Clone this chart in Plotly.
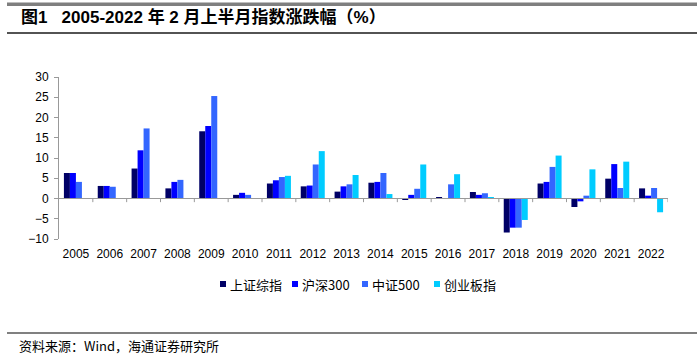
import plotly.graph_objects as go

years = [str(y) for y in range(2005, 2023)]
sh_composite = [6.3, 3.1, 7.4, 2.5, 16.6, 0.9, 3.7, 3.0, 1.7, 3.9, -0.3, 0.25, 1.6, -8.4, 3.7, -2.1, 4.9, 2.5]
hs300 = [6.3, 3.1, 11.9, 4.1, 17.9, 1.4, 4.5, 3.2, 3.0, 4.1, 0.9, 0.1, 0.9, -7.2, 4.1, -0.7, 8.5, 0.7]
csi500 = [4.1, 2.9, 17.3, 4.6, 25.3, 0.9, 5.3, 8.4, 3.5, 6.3, 2.4, 3.5, 1.3, -7.2, 7.8, 0.7, 2.6, 2.6]
chinext = [None, None, None, None, None, 0.05, 5.6, 11.7, 5.8, 1.1, 8.4, 6.0, 0.3, -5.3, 10.6, 7.2, 9.1, -3.4]

names = ["上证综指", "沪深300", "中证500", "创业板指"]
colors = ["#000066", "#0000FF", "#3366FF", "#00CCFF"]
series = [sh_composite, hs300, csi500, chinext]

y_ticks = list(range(-10, 31, 5))

fig = go.Figure()
for name, color, vals in zip(names, colors, series):
    fig.add_trace(go.Bar(x=years, y=vals, name=name, showlegend=False,
                         marker=dict(color=color, line=dict(width=0))))

# plot area geometry (pixels)
W, H = 700, 358
ml, mr, mt, mb = 59, 32, 77, 119
ph = H - mt - mb
pw = W - ml - mr

def py(p):
    return (H - mb - p) / ph

def px(p):
    return (p - ml) / pw

shapes = []
annotations = []
# zero axis line with boundary ticks
n = len(years)
shapes.append(dict(type="line", xref="x", yref="y", x0=-0.5, x1=n - 0.5, y0=0, y1=0,
                   line=dict(color="#999999", width=1)))
for i in range(n):
    shapes.append(dict(type="line", xref="x", yref="y", x0=i + 0.5, x1=i + 0.5, y0=0, y1=-0.9,
                       line=dict(color="#999999", width=1)))
# decorative rules
shapes.append(dict(type="rect", xref="paper", yref="paper", x0=px(7), x1=px(697), y0=py(5.5), y1=py(2.5),
                   fillcolor="#7f7f7f", line=dict(width=0), layer="above"))
shapes.append(dict(type="line", xref="paper", yref="paper", x0=px(7), x1=px(697), y0=py(33), y1=py(33),
                   line=dict(color="#1a1a1a", width=1.5), layer="above"))
shapes.append(dict(type="line", xref="paper", yref="paper", x0=px(7), x1=px(697), y0=py(333), y1=py(333),
                   line=dict(color="#808080", width=2), layer="above"))

# top rule drawn also as a filled annotation box
annotations.append(dict(text=" ", xref="paper", yref="paper", x=px(7), y=py(4),
                        xanchor="left", yanchor="middle", showarrow=False,
                        width=690, height=3, bgcolor="#7f7f7f", borderpad=0, borderwidth=0,
                        font=dict(size=1)))

# custom legend
legend_x = [220, 292, 362, 434]
leg_y = 284
for name, color, lx in zip(names, colors, legend_x):
    shapes.append(dict(type="rect", xref="paper", yref="paper",
                       x0=px(lx), x1=px(lx + 6), y0=py(leg_y + 3), y1=py(leg_y - 3),
                       fillcolor=color, line=dict(width=0)))
    annotations.append(dict(text=name, xref="paper", yref="paper", x=px(lx + 8), y=py(leg_y),
                            xanchor="left", yanchor="middle", showarrow=False,
                            font=dict(family="Noto Sans CJK SC, Liberation Sans", size=13, color="#000000")))

annotations += [
    dict(text="<b>图1&nbsp;&nbsp;&nbsp;2005-2022 年 2 月上半月指数涨跌幅（%）</b>", xref="paper", yref="paper",
         x=px(19), y=py(17), xanchor="left", yanchor="middle", showarrow=False,
         font=dict(family="Liberation Sans, Noto Sans CJK SC", size=17, color="#000000")),
    dict(text="资料来源：Wind，海通证券研究所", xref="paper", yref="paper",
         x=px(17), y=py(345), xanchor="left", yanchor="middle", showarrow=False,
         font=dict(family="Noto Sans CJK SC, Liberation Sans", size=13, color="#000000")),
]

fig.update_layout(
    width=W, height=H,
    margin=dict(l=ml, r=mr, t=mt, b=mb),
    paper_bgcolor="white", plot_bgcolor="white",
    barmode="group", bargap=0.29, bargroupgap=0,
    font=dict(family="Liberation Sans, Arial", size=12, color="#000000"),
    shapes=shapes, annotations=annotations, showlegend=False,
    xaxis=dict(type="category", showline=False, ticks="", showgrid=False, zeroline=False,
               tickfont=dict(size=12), range=[-0.5, n - 0.5], ticklabelstandoff=6),
    yaxis=dict(range=[-10, 30], tickvals=y_ticks, showgrid=False, zeroline=False,
               showline=True, linecolor="#999999", linewidth=1, ticks="outside", ticklen=4,
               tickcolor="#999999", tickfont=dict(size=12), ticklabelstandoff=3),
)

fig.write_html("out.html", config={"displayModeBar": False},
               post_script="document.body.style.margin='0';document.body.style.padding='0';")
